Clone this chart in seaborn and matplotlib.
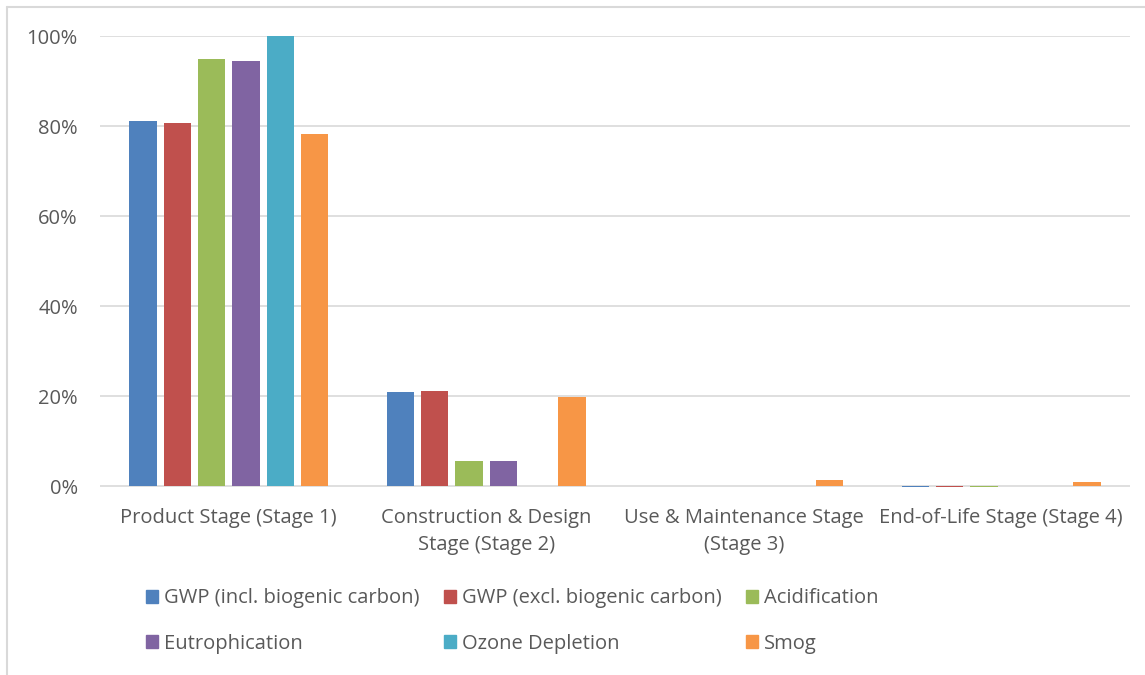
import pandas as pd
import matplotlib
matplotlib.use("Agg")
import matplotlib.pyplot as plt
import seaborn as sns
from matplotlib.patches import Rectangle
from matplotlib.ticker import FuncFormatter

# data (percent of total)
stages = ["Product Stage (Stage 1)", "Construction & Design\nStage (Stage 2)",
          "Use & Maintenance Stage\n(Stage 3)", "End-of-Life Stage (Stage 4)"]
impacts = ["GWP (incl. biogenic carbon)", "GWP (excl. biogenic carbon)", "Acidification",
           "Eutrophication", "Ozone Depletion", "Smog"]
gwp_incl = [81.1, 20.9, 0.0, -0.3]
gwp_excl = [80.7, 21.1, 0.0, -0.3]
acidification = [94.9, 5.6, 0.0, -0.2]
eutrophication = [94.4, 5.6, 0.0, 0.0]
ozone = [100.0, 0.0, 0.0, 0.0]
smog = [78.2, 19.8, 1.3, 0.9]
colors = ["#4F81BD", "#C0504D", "#9BBB59", "#8064A2", "#4BACC6", "#F79646"]

series = [gwp_incl, gwp_excl, acidification, eutrophication, ozone, smog]
rows = []
for name, vals in zip(impacts, series):
    for st, v in zip(stages, vals):
        rows.append({"stage": st, "impact": name, "value": v})
df = pd.DataFrame(rows)

sns.set_style("white")
plt.rcParams["font.family"] = ["Open Sans", "DejaVu Sans"]
text_color = "#595959"
fs = 14.5

fig = plt.figure(figsize=(11.45, 6.75), dpi=100)
ax = fig.add_axes([100 / 1145, 1 - 488.7 / 675, 1030 / 1145, (488.7 - 36) / 675])

sns.barplot(data=df, x="stage", y="value", hue="impact", order=stages, hue_order=impacts,
            palette=colors, width=0.8, gap=0.2, ax=ax, saturation=1, legend=False,
            linewidth=0)

ax.set_ylim(-0.6, 100)
ax.set_xlim(-0.5, 3.5)
ax.set_yticks([0, 20, 40, 60, 80, 100])
ax.yaxis.set_major_formatter(FuncFormatter(lambda v, p: f"{v:.0f}%"))
ax.grid(axis="y", color="#D9D9D9", linewidth=1.2)
ax.set_axisbelow(True)
for s in ax.spines.values():
    s.set_visible(False)
ax.tick_params(axis="both", length=0, labelsize=fs, colors=text_color)
ax.tick_params(axis="y", pad=16)
ax.tick_params(axis="x", pad=14)
for lab in ax.get_xticklabels():
    lab.set_linespacing(1.45)
ax.set_xlabel("")
ax.set_ylabel("")

# legend filled row by row like the original
handles = [Rectangle((0, 0), 1, 1, color=c) for c in colors]
order = [0, 3, 1, 4, 2, 5]
fig.legend([handles[i] for i in order], [impacts[i] for i in order], ncol=3,
           loc="center left", bbox_to_anchor=(128 / 1145, 1 - 621 / 675), frameon=False,
           fontsize=fs, labelcolor=text_color, handlelength=0.6, handleheight=0.6,
           handletextpad=0.3, columnspacing=1.2, labelspacing=1.25)

# light border (top and left edges visible in the original)
fig.add_artist(plt.Line2D([7 / 1145, 7 / 1145], [0, 1 - 7 / 675], transform=fig.transFigure,
                          color="#D9D9D9", linewidth=1.5))
fig.add_artist(plt.Line2D([7 / 1145, 1], [1 - 7 / 675, 1 - 7 / 675], transform=fig.transFigure,
                          color="#D9D9D9", linewidth=1.5))

fig.savefig("out.png", dpi=100, facecolor="white")
